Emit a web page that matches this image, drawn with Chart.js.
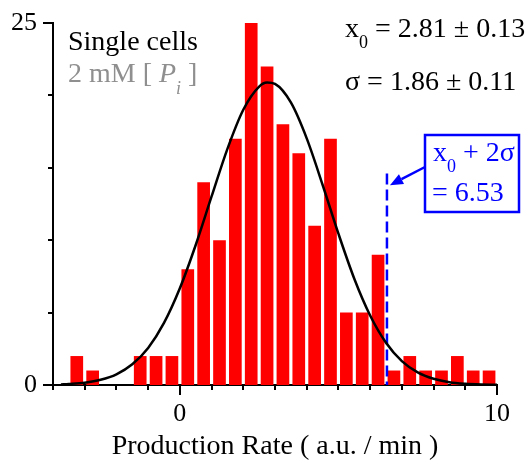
<!DOCTYPE html>
<html><head><meta charset="utf-8">
<script src="https://cdn.jsdelivr.net/npm/chart.js@4"></script>
<style>html,body{margin:0;padding:0;background:#fff;}</style>
</head><body>
<canvas id="c" width="525" height="465"></canvas>
<script>
// Histogram bins (bin width 0.5) and counts
const binCenters = [-3.25,-2.75,-1.25,-0.75,-0.25,0.25,0.75,1.25,1.75,2.25,2.75,3.25,3.75,4.25,4.75,5.25,5.75,6.25,6.75,7.25,7.75,8.25,8.75,9.25,9.75];
const counts     = [2,1,2,2,2,8,14,10,17,25,22,18,16,11,17,5,5,9,1,2,1,1,2,1,1];
// Gaussian fit curve
const fitX = [-3.75,-3.5,-3,-2.5,-2,-1.5,-1,-0.5,0,0.5,1,1.5,2,2.5,2.75,3,3.5,4,4.5,5,5.5,6,6.5,7,7.5,8,8.5,9,9.5,10];
const fitY = [0.04,0.07,0.16,0.36,0.74,1.43,2.56,4.29,6.68,9.67,13.02,16.31,19.01,20.61,20.89,20.79,19.51,17.03,13.83,10.45,7.34,4.80,2.92,1.65,0.87,0.43,0.19,0.08,0.03,0.01];
// Cutoff marker x0 + 2σ
const cutoffX = 6.53;
const cutoffTop = 14.6;
const xTickLabels = [0, 10];
const yTickLabels = [0, 25];
const xAxisTitle = 'Production Rate ( a.u. / min )';

const SERIF = '"Liberation Serif", "Times New Roman", serif';

function drawRich(ctx, x, y, segs) {
  let cx = x;
  for (const s of segs) {
    ctx.font = s.font;
    ctx.fillStyle = s.color;
    ctx.fillText(s.t, cx, y + (s.dy || 0));
    cx += ctx.measureText(s.t).width;
  }
}

const decor = {
  id: 'decor',
  afterDraw(chart) {
    const ctx = chart.ctx;
    const xs = chart.scales.x, ys = chart.scales.y;
    const ca = chart.chartArea;
    ctx.save();
    // tick marks
    ctx.strokeStyle = '#000';
    ctx.lineWidth = 2;
    for (let v = -4; v <= 10; v++) {
      const px = Math.round(xs.getPixelForValue(v));
      const len = xTickLabels.includes(v) ? 10 : 5;
      ctx.beginPath(); ctx.moveTo(px, ca.bottom); ctx.lineTo(px, ca.bottom + len); ctx.stroke();
    }
    for (let v = 0; v <= 25; v += 5) {
      const py = Math.round(ys.getPixelForValue(v));
      const len = yTickLabels.includes(v) ? 10 : 5;
      ctx.beginPath(); ctx.moveTo(ca.left, py); ctx.lineTo(ca.left - len, py); ctx.stroke();
    }
    ctx.textBaseline = 'alphabetic';
    ctx.textAlign = 'left';
    const F = '28px ' + SERIF, FS = '18px ' + SERIF;
    const FI = 'italic 28px ' + SERIF, FIS = 'italic 18px ' + SERIF;
    const gray = '#8f8f8f', blue = '#0000ff';
    drawRich(ctx, 68, 50, [{t:'Single cells', font:F, color:'#000'}]);
    drawRich(ctx, 68, 82, [
      {t:'2 mM [ ', font:F, color:gray},
      {t:'P', font:FI, color:gray},
      {t:'i', font:FIS, color:gray, dy:12},
      {t:' ]', font:F, color:gray}
    ]);
    drawRich(ctx, 345, 37, [
      {t:'x', font:F, color:'#000'},
      {t:'0', font:FS, color:'#000', dy:11},
      {t:' = 2.81 \u00b1 0.13', font:F, color:'#000'}
    ]);
    drawRich(ctx, 345, 90, [{t:'\u03c3 = 1.86 \u00b1 0.11', font:F, color:'#000'}]);
    // annotation box
    ctx.strokeStyle = blue; ctx.lineWidth = 2.5;
    ctx.strokeRect(425, 135, 94, 77);
    drawRich(ctx, 433, 161, [
      {t:'x', font:F, color:blue},
      {t:'0', font:FS, color:blue, dy:11},
      {t:' + 2\u03c3', font:F, color:blue}
    ]);
    drawRich(ctx, 432, 201, [{t:'= 6.53', font:F, color:blue}]);
    // arrow
    const tx = xs.getPixelForValue(cutoffX) + 3, ty = ys.getPixelForValue(13.8);
    const sx = 425, sy = 167;
    const ang = Math.atan2(ty - sy, tx - sx);
    const hl = 13, hw = 5.5;
    const bx = tx - hl * Math.cos(ang), by = ty - hl * Math.sin(ang);
    ctx.beginPath(); ctx.moveTo(sx, sy); ctx.lineTo(bx, by); ctx.stroke();
    ctx.fillStyle = blue;
    ctx.beginPath();
    ctx.moveTo(tx, ty);
    ctx.lineTo(bx + hw * Math.sin(ang), by - hw * Math.cos(ang));
    ctx.lineTo(bx - hw * Math.sin(ang), by + hw * Math.cos(ang));
    ctx.closePath(); ctx.fill();
    ctx.restore();
  }
};

new Chart(document.getElementById('c'), {
  type: 'bar',
  data: {
    datasets: [
      {type:'line', data: fitX.map((x,i)=>({x, y: fitY[i]})), borderColor:'#000', borderWidth:2.5,
       pointRadius:0, cubicInterpolationMode:'monotone', order:0},
      {type:'line', data:[{x:cutoffX, y:cutoffTop},{x:cutoffX, y:0}], borderColor:'#0000ff', borderWidth:2.5,
       borderDash:[11,5], pointRadius:0, order:1},
      {type:'bar', data: binCenters.map((x,i)=>({x, y: counts[i]})), backgroundColor:'#ff0000',
       barPercentage:0.8, categoryPercentage:1.0, order:2}
    ]
  },
  options: {
    responsive:false, animation:false,
    layout:{padding:{top:23, right:28, left:0, bottom:0}},
    plugins:{legend:{display:false}, tooltip:{enabled:false}},
    scales:{
      x:{type:'linear', min:-4, max:10, offset:false,
         grid:{display:false, drawTicks:false}, border:{display:true, color:'#000', width:2},
         ticks:{stepSize:1, autoSkip:false, maxRotation:0, padding:14, color:'#000',
                font:{family:SERIF, size:26},
                callback:v => xTickLabels.includes(v) ? String(v) : ''},
         title:{display:true, text:xAxisTitle, color:'#000', font:{family:SERIF, size:28}, padding:{top:0, bottom:2}},
         afterFit: s => { s.height = 80; s.paddingLeft = 0; s.paddingRight = 0; }
      },
      y:{min:0, max:25,
         grid:{display:false, drawTicks:false}, border:{display:true, color:'#000', width:2},
         ticks:{stepSize:5, autoSkip:false, padding:16, color:'#000',
                font:{family:SERIF, size:26},
                callback:v => yTickLabels.includes(v) ? String(v) : ''},
         afterFit: s => { s.width = 53; s.paddingTop = 0; s.paddingBottom = 0; }
      }
    }
  },
  plugins:[decor]
});
</script>
</body></html>
